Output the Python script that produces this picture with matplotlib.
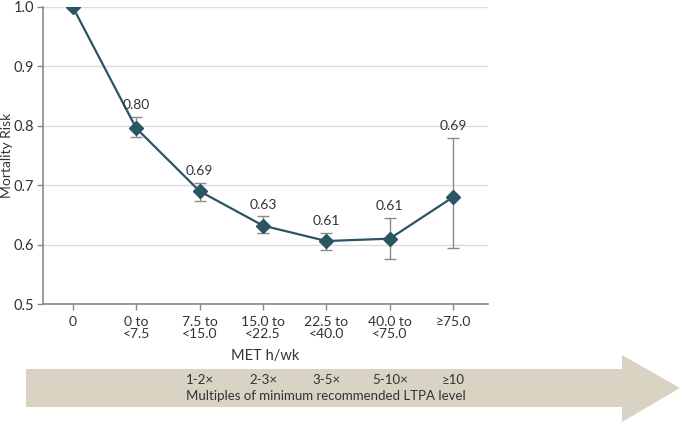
import matplotlib
matplotlib.use("Agg")
import matplotlib.pyplot as plt
import matplotlib.transforms as mtransforms
from matplotlib.patches import Polygon
import numpy as np

# data
categories = ["0", "0 to\n<7.5", "7.5 to\n<15.0", "15.0 to\n<22.5",
              "22.5 to\n<40.0", "40.0 to\n<75.0", "\u226575.0"]
risk = [1.0, 0.796, 0.690, 0.632, 0.606, 0.610, 0.680]
ci_low = [1.0, 0.781, 0.673, 0.619, 0.591, 0.576, 0.594]
ci_high = [1.0, 0.815, 0.704, 0.648, 0.620, 0.645, 0.780]
labels = ["", "0.80", "0.69", "0.63", "0.61", "0.61", "0.69"]
multiples = ["", "", "1-2\u00d7", "2-3\u00d7", "3-5\u00d7", "5-10\u00d7", "\u226510"]

plt.rcParams['font.family'] = ['Lato', 'DejaVu Sans']

W, H = 680, 422
fig = plt.figure(figsize=(W / 100, H / 100), dpi=100)
ax = fig.add_axes([43 / W, 1 - 304 / H, (488 - 43) / W, (304 - 7) / H])

x = np.arange(len(categories))
risk = np.array(risk)
lo = risk - np.array(ci_low)
hi = np.array(ci_high) - risk

line_c = "#2b5464"
grey = "#8a8a8a"
txt = "#333333"

ax.errorbar(x[1:], risk[1:], yerr=[lo[1:], hi[1:]], fmt="none",
            ecolor=grey, elinewidth=1, capsize=4, capthick=1, zorder=2)
ax.plot(x, risk, color=line_c, lw=1.6, marker="D", ms=7.5,
        mfc=line_c, mec=line_c, zorder=3)

for xi, top, lab in zip(x, ci_high, labels):
    if lab:
        ax.annotate(lab, (xi, top), xytext=(0, 4), textcoords="offset points",
                    ha="center", va="bottom", fontsize=10, color=txt)

ax.set_xlim(-0.47, 6.55)
ax.set_ylim(0.5, 1.0)
ax.set_xticks(x)
ax.set_xticklabels(categories, fontsize=10, color=txt, linespacing=1.0)
ax.set_yticks([0.5, 0.6, 0.7, 0.8, 0.9, 1.0])
ax.set_yticklabels(["0.5", "0.6", "0.7", "0.8", "0.9", "1.0"],
                   fontsize=10.5, color=txt)
ax.yaxis.grid(True, color="#dcdcdc", lw=1)
ax.set_axisbelow(True)
for s in ["top", "right"]:
    ax.spines[s].set_visible(False)
for s in ["left", "bottom"]:
    ax.spines[s].set_color(grey)
    ax.spines[s].set_linewidth(1.2)
ax.tick_params(colors=grey, labelcolor=txt, length=4, width=1)
ax.tick_params(axis="x", pad=5)
ax.tick_params(axis="y", pad=2.5)
ax.set_ylabel("Mortality Risk", fontsize=10, color=txt)
ax.yaxis.set_label_coords((13 - 43) / (488 - 43), 0.5)
ax.set_xlabel("MET h/wk", fontsize=10.5, color=txt, labelpad=6)

# arrow band at the bottom
def fy(p):
    return 1 - p / H

arrow = Polygon([(26 / W, fy(369)), (622 / W, fy(369)), (622 / W, fy(355)),
                 (680 / W, fy(388)), (622 / W, fy(422)), (622 / W, fy(407)),
                 (26 / W, fy(407))], closed=True, transform=fig.transFigure,
                facecolor="#d9d3c4", edgecolor="none")
fig.patches.append(arrow)

trans = mtransforms.blended_transform_factory(ax.transData, fig.transFigure)
for xi, m in zip(x, multiples):
    if m:
        fig.text(xi, fy(380), m, transform=trans, ha="center", va="center",
                 fontsize=9.5, color=txt)
fig.text(x[4], fy(396), "Multiples of minimum recommended LTPA level",
         transform=trans, ha="center", va="center", fontsize=9.5, color=txt)

fig.savefig("out.png", dpi=100)
